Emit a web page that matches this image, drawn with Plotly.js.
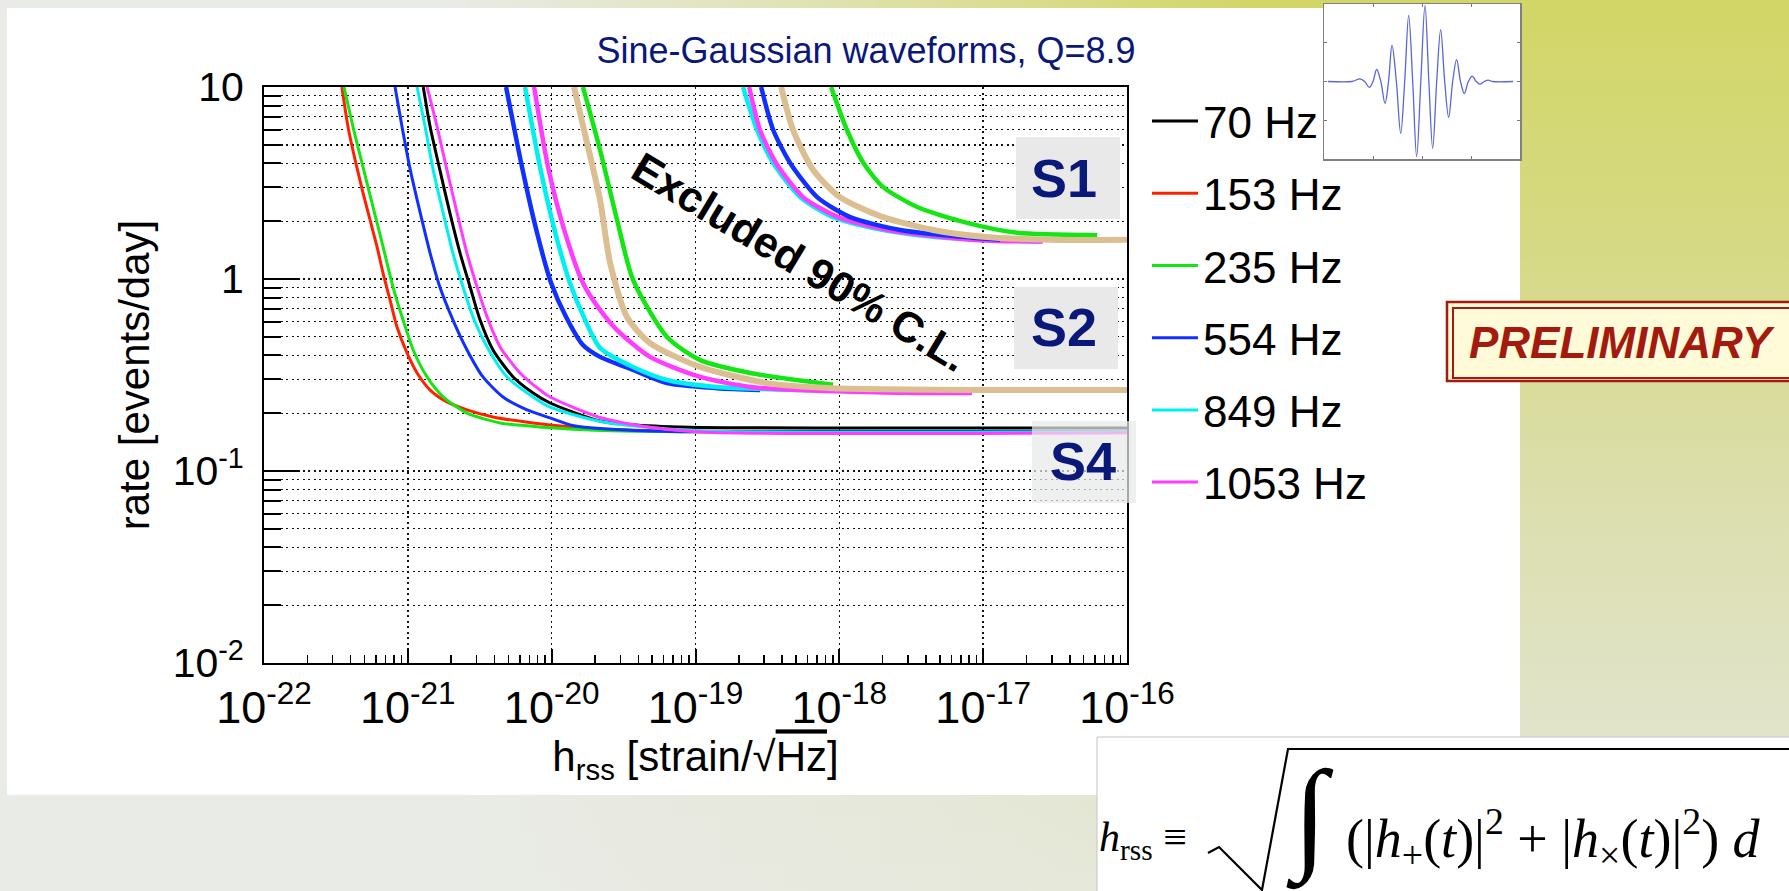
<!DOCTYPE html>
<html><head><meta charset="utf-8">
<script src="https://cdn.plot.ly/plotly-3.0.1.min.js"></script>
<style>
html,body{margin:0;padding:0;width:1789px;height:891px;overflow:hidden;}
body{background:
 linear-gradient(to right, rgba(233,235,230,1) 0%, rgba(233,235,230,1) 25%, rgba(233,235,230,0.6) 45%, rgba(233,235,230,0) 70%),
 linear-gradient(to bottom, #d2d666 0%, #d6d983 28%, #dbdea8 52%, #e0e3c6 78%, #e5e7d6 100%);}
#chart{width:1789px;height:891px;}
</style></head><body><div id="chart"></div>
<script>
// ---------------- data ----------------
// S4 run (thin curves)
const h70_S4   = [1.28e-21,1.43e-21,1.67e-21,1.96e-21,2.31e-21,2.71e-21,3.18e-21,3.91e-21,5.40e-21,7.43e-21,9.75e-21,2.17e-20,3.56e-20,9.03e-20,1e-18,1e-16];
const r70_S4   = [10,6.19,3.70,2.21,1.36,0.908,0.611,0.427,0.309,0.255,0.226,0.182,0.174,0.169,0.1675,0.1675];
const h153_S4  = [3.48e-22,3.84e-22,4.30e-22,4.88e-22,5.46e-22,6.11e-22,6.73e-22,7.52e-22,8.41e-22,9.87e-22,1.16e-21,1.43e-21,1.87e-21,2.58e-21,3.91e-21,7.43e-21,2.0e-20,1e-19,1e-16];
const r153_S4  = [10,6.19,4.17,2.81,2.03,1.47,1.07,0.778,0.562,0.412,0.324,0.264,0.229,0.208,0.191,0.178,0.166,0.161,0.16];
const h235_S4  = [3.60e-22,4.16e-22,4.88e-22,5.73e-22,6.73e-22,7.89e-22,9.27e-22,1.09e-21,1.36e-21,1.76e-21,2.58e-21,4.38e-21,8.71e-21,2.0e-20,1e-19,1e-16];
const r235_S4  = [10,6.19,3.83,2.37,1.47,0.908,0.611,0.427,0.309,0.243,0.200,0.178,0.169,0.163,0.16,0.16];
const h554_S4  = [8.15e-22,9.12e-22,1.04e-21,1.22e-21,1.43e-21,1.67e-21,2.06e-21,2.58e-21,3.33e-21,4.59e-21,6.75e-21,9.75e-21,1.43e-20,3.0e-20,1e-19,1e-16];
const r554_S4  = [10,6.19,3.70,2.21,1.36,0.908,0.611,0.427,0.309,0.243,0.208,0.189,0.172,0.164,0.16,0.16];
const h849_S4  = [1.16e-21,1.32e-21,1.50e-21,1.76e-21,2.06e-21,2.42e-21,2.84e-21,3.56e-21,4.90e-21,7.43e-21,9.75e-21,2.28e-20,1.08e-19,1e-16];
const r849_S4  = [10,6.19,3.70,2.21,1.36,0.908,0.634,0.443,0.309,0.243,0.215,0.180,0.162,0.16];
const h1053_S4 = [1.36e-21,1.60e-21,1.87e-21,2.20e-21,2.58e-21,3.03e-21,3.56e-21,4.38e-21,6.03e-21,8.30e-21,9.75e-21,2.17e-20,5.15e-20,1.2e-19,1e-16];
const r1053_S4 = [10,6.19,3.70,2.21,1.36,0.908,0.634,0.443,0.324,0.264,0.243,0.190,0.168,0.159,0.158];
// S2 run
const h554_S2  = [4.82e-21,6.22e-21,7.91e-21,9.91e-21,1.26e-20,1.65e-20,2.17e-20,3.68e-20,6.34e-20,1.41e-19,2.81e-19];
const r554_S2  = [10,3.83,1.74,0.953,0.634,0.453,0.393,0.336,0.287,0.270,0.264];
const h849_S2  = [6.53e-21,8.30e-21,1.06e-20,1.34e-20,1.71e-20,2.17e-20,3.68e-20,6.34e-20,1.41e-19,5.34e-19,3.37e-18];
const r849_S2  = [10,3.83,1.74,0.953,0.611,0.438,0.348,0.298,0.274,0.264,0.258];
const h1053_S2 = [7.55e-21,9.44e-21,1.24e-20,1.65e-20,2.17e-20,2.85e-20,4.83e-20,1.08e-19,2.40e-19,5.34e-19,3.48e-18,8.38e-18];
const r1053_S2 = [10,3.83,1.74,0.953,0.690,0.542,0.393,0.309,0.274,0.264,0.255,0.255];
const h235_S2  = [1.65e-20,2.17e-20,2.85e-20,3.68e-20,6.34e-20,1.08e-19,2.40e-19,9.06e-19];
const r235_S2  = [10,4.70,2.03,0.99,0.499,0.378,0.324,0.281];
const hTan_S2  = [1.43e-20,1.71e-20,2.17e-20,2.55e-20,3.34e-20,4.83e-20,1.08e-19,3.15e-19,9.06e-19,2.92e-17,1e-16];
const rTan_S2  = [10,5.62,2.58,1.21,0.634,0.464,0.348,0.287,0.270,0.264,0.264];
// S1 run
const h849_S1  = [2.14e-19,2.68e-19,3.47e-19,5.34e-19,9.06e-19,2.02e-18,4.49e-18,1.0e-17,2.49e-17];
const r849_S1  = [10,5.97,4.02,2.67,2.10,1.80,1.66,1.60,1.57];
const h1053_S1 = [2.36e-19,2.81e-19,3.63e-19,5.60e-19,9.82e-19,2.18e-18,5.02e-18,1.12e-17,2.6e-17];
const r1053_S1 = [10,5.97,4.02,2.67,2.10,1.80,1.66,1.58,1.57];
const h554_S1  = [2.86e-19,3.47e-19,4.55e-19,7.01e-19,1.19e-18,2.65e-18,5.90e-18,1.31e-17];
const r554_S1  = [10,5.97,4.02,2.67,2.10,1.80,1.68,1.60];
const hTan_S1  = [3.94e-19,4.77e-19,6.58e-19,1.01e-18,2.02e-18,4.49e-18,1.0e-17,2.92e-17,1e-16];
const rTan_S1  = [10,5.97,3.70,2.67,2.10,1.80,1.66,1.60,1.60];
const h235_S1  = [8.77e-19,1.13e-18,1.47e-18,2.02e-18,3.48e-18,7.74e-18,1.72e-17,6.21e-17];
const r235_S1  = [10,5.97,4.02,3.01,2.37,1.96,1.74,1.69];

const legendNames = ['70 Hz','153 Hz','235 Hz','554 Hz','849 Hz','1053 Hz'];

// axis ticks
const xTickVals = [1e-22,1e-21,1e-20,1e-19,1e-18,1e-17,1e-16];
const xTickText = ['10<sup>-22</sup>','10<sup>-21</sup>','10<sup>-20</sup>','10<sup>-19</sup>','10<sup>-18</sup>','10<sup>-17</sup>','10<sup>-16</sup>'];
const yTickVals = [0.01,0.1,1,10];
const yTickText = ['10<sup>-2</sup>','10<sup>-1</sup>','1','10'];
const xMinorVals = [];
for (let e=-22;e<-16;e++){ for(let m=2;m<=9;m++){ xMinorVals.push(m*Math.pow(10,e)); } }
const yMinorVals = [];
for (let e=-2;e<1;e++){ for(let m=2;m<=9;m++){ yMinorVals.push(m*Math.pow(10,e)); } }

// inset sine-Gaussian waveform (extrema and crossings)
const insetT = [-1.92,-1.43,-1.265,-1.17,-1.075,-1.0,-0.925,-0.84,-0.755,-0.683,-0.612,-0.523,-0.435,-0.353,-0.272,-0.19,-0.109,-0.024,0.061,0.14,0.218,0.30,0.381,0.463,0.544,0.626,0.707,0.786,0.864,0.946,1.027,1.105,1.184,1.27,1.354,1.44,1.86];
const insetV = [0,0,0.034,0,-0.077,0,0.155,0,-0.283,0,0.468,0,-0.670,0,0.854,0,-0.970,0,0.983,0,-0.863,0,0.670,0,-0.464,0,0.283,0,-0.155,0,0.069,0,-0.034,0,0.017,0,0];

// ---------------- drawing ----------------
const W = 1789, H = 891;
const PX = x => x / W;
const PY = y => 1 - y / H;
const P = (x, y) => (x / W).toFixed(5) + ',' + (1 - y / H).toFixed(5);
const FONT = 'Liberation Sans, Arial, sans-serif';
const SERIF = 'Liberation Serif, DejaVu Serif, serif';
const NAVY = '#0a187a';

const C = {k:'#000000', r:'#ff2200', g:'#14e614', b:'#1030ff', c:'#00f0f0', m:'#ff3cff', t:'#dbbf92'};
function tr(x, y, color, width, group, name, show) {
  return {x:x, y:y, type:'scatter', mode:'lines', name:name || '', legendgroup:group,
          showlegend:!!show, line:{color:color, width:width, shape:'spline', smoothing:0.7},
          hoverinfo:'skip'};
}
const thin = 3, thick = 4.5;
const traces = [
  // S4 (legend entries, in legend order)
  tr(h70_S4, r70_S4, C.k, thin, 'g70', legendNames[0], true),
  tr(h153_S4, r153_S4, C.r, thin, 'g153', legendNames[1], true),
  tr(h235_S4, r235_S4, C.g, thin, 'g235', legendNames[2], true),
  tr(h554_S4, r554_S4, C.b, thin, 'g554', legendNames[3], true),
  tr(h849_S4, r849_S4, C.c, thin, 'g849', legendNames[4], true),
  tr(h1053_S4, r1053_S4, C.m, thin, 'g1053', legendNames[5], true),
  // S2
  tr(h554_S2, r554_S2, C.b, thick, 'g554'),
  tr(h849_S2, r849_S2, C.c, thick, 'g849'),
  tr(h1053_S2, r1053_S2, C.m, thick, 'g1053'),
  tr(h235_S2, r235_S2, C.g, thick, 'g235'),
  // S1
  tr(h849_S1, r849_S1, C.c, thick, 'g849'),
  tr(h1053_S1, r1053_S1, C.m, thick, 'g1053'),
  tr(h554_S1, r554_S1, C.b, thick, 'g554'),
  tr(h235_S1, r235_S1, C.g, thick, 'g235'),
  // unlabelled tan curves
  tr(hTan_S2, rTan_S2, C.t, 6, 'gtan'),
  tr(hTan_S1, rTan_S1, C.t, 6, 'gtan'),
  // inset
  {x:insetT, y:insetV, xaxis:'x2', yaxis:'y2', type:'scatter', mode:'lines', showlegend:false,
   line:{color:'#5866d8', width:1.3, shape:'spline', smoothing:1}, hoverinfo:'skip'}
];

const DOT = '2px,3.5px';
const GRIDC = '#111';
const layout = {
  width:W, height:H, margin:{l:0,r:0,t:0,b:0,pad:0},
  paper_bgcolor:'rgba(0,0,0,0)', plot_bgcolor:'#ffffff',
  font:{family:FONT, color:'#000'},
  title:{text:'Sine-Gaussian waveforms, Q=8.9', x:PX(866), xref:'paper', xanchor:'center',
         y:PY(50), yref:'paper', yanchor:'middle',
         font:{family:FONT, size:36, color:NAVY}},
  showlegend:true,
  legend:{x:PX(1147), y:PY(86), xanchor:'left', yanchor:'top', bgcolor:'rgba(0,0,0,0)', borderwidth:0,
          font:{family:FONT, size:44, color:'#000'}, itemwidth:46, tracegroupgap:12, traceorder:'grouped'},
  xaxis:{domain:[PX(264),PX(1127)], anchor:'y', type:'log', range:[-22,-16],
         tickmode:'array', tickvals:xTickVals, ticktext:xTickText,
         ticks:'inside', ticklen:14, tickwidth:2, tickcolor:'#000',
         showline:true, linecolor:'#000', linewidth:2, mirror:true,
         showgrid:true, gridcolor:GRIDC, gridwidth:1.4, griddash:DOT, zeroline:false,
         tickfont:{family:FONT, size:45, color:'#000'}, ticklabelstandoff:4,
         minor:{tickmode:'array', tickvals:xMinorVals, ticks:'inside', ticklen:8, tickwidth:1.5, tickcolor:'#000', showgrid:false},
         title:{text:'h<sub>rss</sub> [strain/√<span style="text-decoration:overline">Hz</span>]', font:{family:FONT, size:42, color:'#000'}, standoff:10},
         fixedrange:true},
  yaxis:{domain:[PY(663),PY(87)], anchor:'x', type:'log', range:[-2,1],
         tickmode:'array', tickvals:yTickVals, ticktext:yTickText,
         ticks:'inside', ticklen:36, tickwidth:2, tickcolor:'#000',
         showline:true, linecolor:'#000', linewidth:2, mirror:true,
         showgrid:true, gridcolor:GRIDC, gridwidth:1.4, griddash:DOT, zeroline:false,
         tickfont:{family:FONT, size:41, color:'#000'}, ticklabelstandoff:10,
         minor:{tickmode:'array', tickvals:yMinorVals, ticks:'inside', ticklen:17, tickwidth:2, tickcolor:'#000',
                showgrid:true, gridcolor:GRIDC, gridwidth:1.4, griddash:DOT},
         title:{text:'rate [events/day]', font:{family:FONT, size:42, color:'#000'}, standoff:10},
         fixedrange:true},
  xaxis2:{domain:[PX(1324),PX(1520)], anchor:'y2', range:[-2,2], tickmode:'array', tickvals:[-1,0,1],
          ticks:'inside', ticklen:3, tickcolor:'#777', showticklabels:false, showgrid:false, zeroline:false,
          showline:true, linecolor:'#808080', linewidth:1.5, mirror:'ticks', fixedrange:true},
  yaxis2:{domain:[PY(159),PY(4)], anchor:'x2', range:[-1,1], tickmode:'array', tickvals:[-0.5,0,0.5],
          ticks:'inside', ticklen:3, tickcolor:'#777', showticklabels:false, showgrid:false, zeroline:false,
          showline:true, linecolor:'#808080', linewidth:1.5, mirror:'ticks', fixedrange:true},
  shapes:[
    // white slide panel
    {type:'rect', xref:'paper', yref:'paper', x0:PX(7), x1:PX(1520), y0:PY(795), y1:PY(8), fillcolor:'#ffffff', line:{width:0}, layer:'below'},
    // S-run label boxes
    {type:'rect', xref:'paper', yref:'paper', x0:PX(1016), x1:PX(1120), y0:PY(219), y1:PY(137), fillcolor:'#e9e9e9', line:{width:0}, layer:'above'},
    {type:'rect', xref:'paper', yref:'paper', x0:PX(1014), x1:PX(1118), y0:PY(369), y1:PY(287), fillcolor:'#e9e9e9', line:{width:0}, layer:'above'},
    {type:'rect', xref:'paper', yref:'paper', x0:PX(1032), x1:PX(1136), y0:PY(503), y1:PY(421), fillcolor:'rgba(232,233,233,0.72)', line:{width:0}, layer:'above'},
    // PRELIMINARY frame
    {type:'rect', xref:'paper', yref:'paper', x0:PX(1447), x1:PX(1800), y0:PY(381), y1:PY(302), fillcolor:'#fffbd8', line:{color:'#a31a0e', width:2.5}, layer:'above'},
    {type:'rect', xref:'paper', yref:'paper', x0:PX(1453), x1:PX(1800), y0:PY(378), y1:PY(308), fillcolor:'rgba(0,0,0,0)', line:{color:'#a31a0e', width:2}, layer:'above'},
    // formula box
    {type:'rect', xref:'paper', yref:'paper', x0:PX(1097), x1:PX(1800), y0:PY(900), y1:PY(737), fillcolor:'#ffffff', line:{color:'#c4c4c4', width:1}, layer:'above'},
    {type:'path', xref:'paper', yref:'paper', path:'M'+P(1208,853)+' L'+P(1219,847)+' L'+P(1262,890)+' L'+P(1288,749)+' L'+P(1800,749),
     line:{color:'#000', width:2.2}, layer:'above'}
  ],
  annotations:[
    {xref:'paper', yref:'paper', x:PX(1064), y:PY(178), text:'<b>S1</b>', showarrow:false, xanchor:'center', yanchor:'middle', font:{family:FONT, size:54, color:NAVY}},
    {xref:'paper', yref:'paper', x:PX(1064), y:PY(327), text:'<b>S2</b>', showarrow:false, xanchor:'center', yanchor:'middle', font:{family:FONT, size:54, color:NAVY}},
    {xref:'paper', yref:'paper', x:PX(1083), y:PY(461), text:'<b>S4</b>', showarrow:false, xanchor:'center', yanchor:'middle', font:{family:FONT, size:54, color:NAVY}},
    {xref:'paper', yref:'paper', x:PX(800), y:PY(262), text:'<b>Excluded 90% C.L.</b>', showarrow:false, textangle:31, xanchor:'center', yanchor:'middle', font:{family:FONT, size:43, color:'#000'}},
    {xref:'paper', yref:'paper', x:PX(1622), y:PY(342), text:'<b><i>PRELIMINARY</i></b>', showarrow:false, xanchor:'center', yanchor:'middle', font:{family:FONT, size:44, color:'#a31a0e'}},
    {xref:'paper', yref:'paper', x:PX(1097), y:PY(840), text:'<i>h</i><sub>rss</sub> ≡', showarrow:false, xanchor:'left', yanchor:'middle', font:{family:SERIF, size:42, color:'#000'}},
    {xref:'paper', yref:'paper', x:PX(1310), y:PY(818), text:'<i>∫</i>', showarrow:false, xanchor:'center', yanchor:'middle', font:{family:SERIF, size:124, color:'#000'}},
    {xref:'paper', yref:'paper', x:PX(1344), y:PY(838), text:'(|<i>h</i><sub>+</sub>(<i>t</i>)|<sup>2</sup> + |<i>h</i><sub>×</sub>(<i>t</i>)|<sup>2</sup>) <i>d</i>', showarrow:false, xanchor:'left', yanchor:'middle', font:{family:SERIF, size:54, color:'#000'}}
  ]
};
Plotly.newPlot('chart', traces, layout, {displayModeBar:false, staticPlot:true});
</script></body></html>
